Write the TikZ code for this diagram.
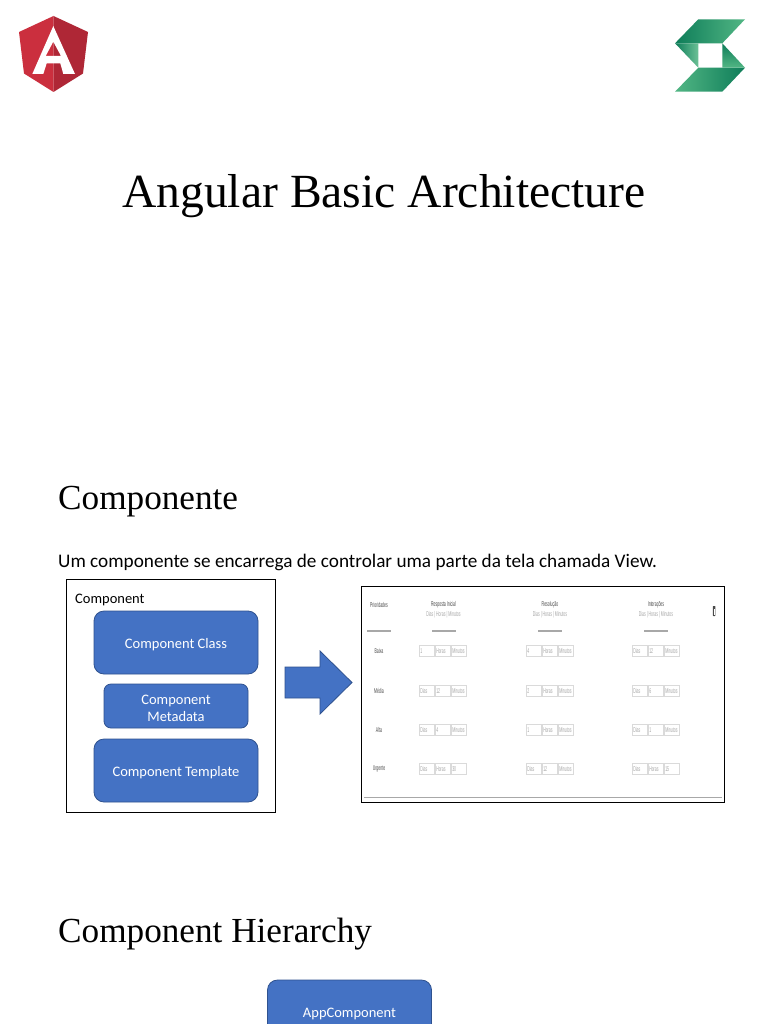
\documentclass[tikz,border=0pt]{standalone}
\usepackage{fontspec}
\setmainfont{Liberation Serif}
\newfontfamily\calfont{Carlito}
\newfontfamily\smallfont{Liberation Sans}
\definecolor{bluefill}{HTML}{4472C4}
\definecolor{blueedge}{HTML}{2F528F}
\definecolor{ngl}{HTML}{CB2F3E}
\definecolor{ngr}{HTML}{AF2736}
\definecolor{gdark}{HTML}{0E7D59}
\definecolor{glight}{HTML}{52B684}
\definecolor{tgray}{HTML}{A6A6A6}
\definecolor{tdark}{HTML}{4A4A4A}
\definecolor{fieldedge}{HTML}{DADADA}
\definecolor{linegray}{HTML}{A8A8A8}
\newcommand{\sq}[1]{\scalebox{0.5}[1]{#1}}
\newcommand{\dn}{\rule{0pt}{14pt}}
\tikzset{
 titletext/.style={anchor=base west,inner sep=0pt,text=black,font=\fontsize{47.6}{50}\selectfont},
 headtext/.style={anchor=base west,inner sep=0pt,text=black,font=\fontsize{35.2}{38}\selectfont},
 bodytext/.style={anchor=base west,inner sep=0pt,text=black,font=\calfont\fontsize{19.22}{22}\selectfont},
 labeltext/.style={anchor=base west,inner sep=0pt,text=black,font=\calfont\fontsize{14.5}{18}\selectfont},
 bluebox/.style={draw=blueedge,fill=bluefill,line width=0.8pt,rounded corners=10pt,text=white,align=center,font=\calfont\fontsize{14.5}{17.5}\selectfont,inner sep=0pt},
 framebox/.style={draw=black,line width=0.9pt,fill=white,inner sep=0pt},
 thead/.style={inner sep=0pt,text=tdark,font=\smallfont\fontsize{7}{8}\selectfont},
 tsub/.style={inner sep=0pt,text=tgray,font=\smallfont\fontsize{7}{8}\selectfont},
 tfield/.style={draw=fieldedge,line width=0.6pt,fill=white,minimum width=15pt,minimum height=10.5pt,inner sep=0pt,text width=13.5pt,align=left,text=tgray,font=\smallfont\fontsize{7}{8}\selectfont},
 trule/.style={draw=linegray,line width=1.1pt},
}
\begin{document}
\begin{tikzpicture}[x=1pt,y=-1pt]
\useasboundingbox (0,0) rectangle (768,1024);
\clip (0,0) rectangle (768,1024);
\fill[white] (0,0) rectangle (768,1024);
% Angular logo
\fill[ngl] (53.5,16) -- (19,32) -- (24,73.5) -- (53.5,92) -- cycle;
\fill[ngr] (53.5,16) -- (88,32) -- (83,73.5) -- (53.5,92) -- cycle;
\fill[white,even odd rule] (53.3,26) -- (75,74) -- (63.3,74) -- (60.3,63.3) -- (46.7,63.3) -- (43.3,74) -- (32.3,74) -- cycle
 (53.3,41.7) -- (61,56) -- (45.7,56) -- cycle;
% green logo
\shade[left color=gdark,right color=glight] (698.3,19.3) -- (745,19.3) -- (722.3,43.3) -- (675,43.3) -- cycle;
\shade[left color=glight,right color=gdark] (698.3,67.7) -- (745,67.7) -- (722.3,91.7) -- (675,91.7) -- cycle;
\shade[left color=gdark,right color=glight!85!white] (675,43.3) -- (698.3,43.3) -- (698.3,67.7) -- cycle;
\shade[top color=gdark,bottom color=glight] (722.3,43.3) -- (745,67.7) -- (722.3,67.7) -- cycle;
% headings
\node[titletext] (title) at (122,208) {Angular Basic Architecture};
\node[headtext] (comp) at (58,509) {Componente};
\node[bodytext] (intro) at (58,567) {Um componente se encarrega de controlar uma parte da tela chamada View.};
\node[headtext] (hier) at (58,942) {Component Hierarchy};
% component box
\node[framebox,minimum width=209pt,minimum height=233pt] (outer) at (170.5,695.5) {};
\node[labeltext] (complabel) at (75,603) {Component};
\node[bluebox,minimum width=164pt,minimum height=63pt] (cclass) at (176,642.5) {\dn Component Class};
\node[bluebox,rounded corners=7pt,minimum width=144pt,minimum height=44pt] (cmeta) at (176,706) {\dn Component\\Metadata};
\node[bluebox,minimum width=164pt,minimum height=63pt] (ctempl) at (176,770.5) {\dn Component Template};
% block arrow
\draw[draw=blueedge,fill=bluefill,line width=0.8pt] (285,667) -- (320,667) -- (320,651) -- (352,682.5) -- (320,714) -- (320,698) -- (285,698) -- cycle;
% screenshot frame
\node[framebox,minimum width=363pt,minimum height=216pt] (shot) at (542.5,694) {};
\node[thead] (hp) at (379,605) {\sq{Prioridades}};
\node[thead] (h1) at (443.5,605) {\sq{Resposta Inicial}};
\node[thead] (h2) at (550,605) {\sq{Resolução}};
\node[thead] (h3) at (656,605) {\sq{Interações}};
\node[tsub] (s1) at (443.5,615) {\sq{Dias | Horas | Minutos}};
\node[tsub] (s2) at (550,615) {\sq{Dias | Horas | Minutos}};
\node[tsub] (s3) at (656,615) {\sq{Dias | Horas | Minutos}};
\draw[trule] (367,631) -- (391,631);
\draw[trule] (432,631) -- (456,631);
\draw[trule] (538,631) -- (562,631);
\draw[trule] (644,631) -- (668,631);
\fill[tdark,rounded corners=0.5pt] (712.8,606) rectangle (715.4,616);
\fill[white] (713.5,609) rectangle (714.7,615);
\node[thead] (r1) at (379,651) {\sq{Baixa}};
\node[thead] (r2) at (379,691) {\sq{Média}};
\node[thead] (r3) at (379,730) {\sq{Alta}};
\node[thead] (r4) at (379,769) {\sq{Urgente}};
\foreach \rowname/\yy/\aa/\ab/\ac/\ba/\bb/\bc/\ca/\cb/\cc in {
 a/651/1/Horas/Minutos/4/Horas/Minutos/Dias/12/Minutos,
 b/691/Dias/12/Minutos/2/Horas/Minutos/Dias/6/Minutos,
 c/730/Dias/4/Minutos/1/Horas/Minutos/Dias/1/Minutos,
 d/769/Dias/Horas/30/Dias/12/Minutos/Dias/Horas/15}{
 \foreach \col/\xx/\pa/\pb/\pc in {1/419/\aa/\ab/\ac,2/526/\ba/\bb/\bc,3/632/\ca/\cb/\cc}{
  \node[tfield] (f\rowname\col a) at (\xx+8,\yy) {\sq{\pa}};
  \node[tfield] (f\rowname\col b) at (\xx+24,\yy) {\sq{\pb}};
  \node[tfield] (f\rowname\col c) at (\xx+40,\yy) {\sq{\pc}};
 }
}
\draw[draw=linegray,line width=0.8pt] (364,797.5) -- (722,797.5);
% hierarchy
\node[bluebox,minimum width=164pt,minimum height=90pt] (app) at (349.5,1025) {};
\node[inner sep=0pt,text=white,font=\calfont\fontsize{14.5}{17}\selectfont] (applabel) at (349.5,1013.5) {AppComponent};
\end{tikzpicture}
\end{document}
